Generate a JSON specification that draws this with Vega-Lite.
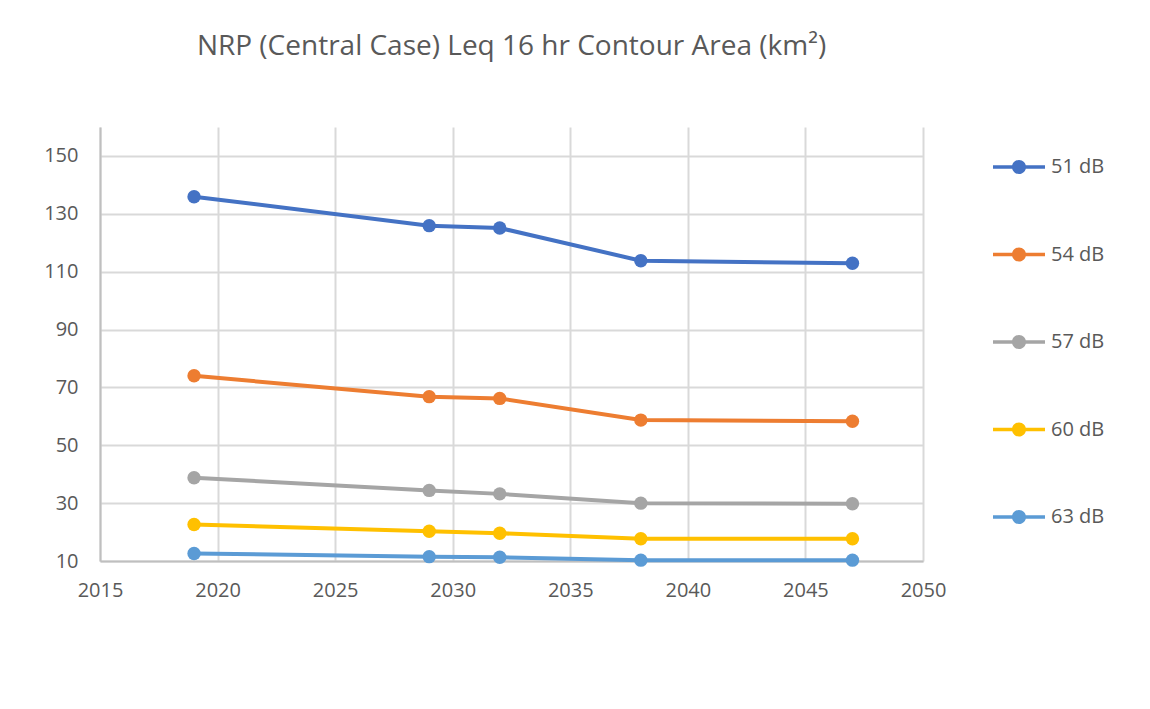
{
  "$schema": "https://vega.github.io/schema/vega-lite/v6.json",
  "autosize": "none",
  "width": 823,
  "height": 434,
  "padding": {"left": 100, "top": 127, "right": 227, "bottom": 148},
  "background": "white",
  "title": {
    "text": "NRP (Central Case) Leq 16 hr Contour Area (km²)",
    "anchor": "middle",
    "offset": 66,
    "font": "Open Sans",
    "fontSize": 28,
    "fontWeight": "normal",
    "color": "#595959"
  },
  "data": {
    "values": [
      {"year": 2019, "series": "51 dB", "area": 135.9},
      {"year": 2029, "series": "51 dB", "area": 125.9},
      {"year": 2032, "series": "51 dB", "area": 125.1},
      {"year": 2038, "series": "51 dB", "area": 113.8},
      {"year": 2047, "series": "51 dB", "area": 112.9},
      {"year": 2019, "series": "54 dB", "area": 74.0},
      {"year": 2029, "series": "54 dB", "area": 66.8},
      {"year": 2032, "series": "54 dB", "area": 66.2},
      {"year": 2038, "series": "54 dB", "area": 58.7},
      {"year": 2047, "series": "54 dB", "area": 58.3},
      {"year": 2019, "series": "57 dB", "area": 38.8},
      {"year": 2029, "series": "57 dB", "area": 34.4},
      {"year": 2032, "series": "57 dB", "area": 33.2},
      {"year": 2038, "series": "57 dB", "area": 30.0},
      {"year": 2047, "series": "57 dB", "area": 29.8},
      {"year": 2019, "series": "60 dB", "area": 22.6},
      {"year": 2029, "series": "60 dB", "area": 20.3},
      {"year": 2032, "series": "60 dB", "area": 19.6},
      {"year": 2038, "series": "60 dB", "area": 17.7},
      {"year": 2047, "series": "60 dB", "area": 17.7},
      {"year": 2019, "series": "63 dB", "area": 12.6},
      {"year": 2029, "series": "63 dB", "area": 11.5},
      {"year": 2032, "series": "63 dB", "area": 11.3},
      {"year": 2038, "series": "63 dB", "area": 10.3},
      {"year": 2047, "series": "63 dB", "area": 10.3}
    ]
  },
  "encoding": {
    "x": {
      "field": "year",
      "type": "quantitative",
      "scale": {"domain": [2015, 2050], "nice": false, "zero": false},
      "axis": {
        "title": null,
        "values": [2015, 2020, 2025, 2030, 2035, 2040, 2045, 2050],
        "format": "d",
        "grid": true,
        "gridColor": "#d9d9d9",
        "gridWidth": 2,
        "domainColor": "#bfbfbf",
        "domainWidth": 2,
        "ticks": false,
        "labelPadding": 19,
        "labelFont": "Open Sans",
        "labelFontSize": 20,
        "labelColor": "#595959",
        "labelFlush": false
      }
    },
    "y": {
      "field": "area",
      "type": "quantitative",
      "scale": {"domain": [10, 160], "nice": false, "zero": false},
      "axis": {
        "title": null,
        "values": [10, 30, 50, 70, 90, 110, 130, 150],
        "grid": true,
        "gridColor": "#d9d9d9",
        "gridWidth": 2,
        "domainColor": "#bfbfbf",
        "domainWidth": 2,
        "ticks": false,
        "labelPadding": 22,
        "labelFont": "Open Sans",
        "labelFontSize": 20,
        "labelColor": "#595959",
        "labelFlush": false
      }
    }
  },
  "layer": [
    {
      "mark": {"type": "line", "strokeWidth": 4},
      "encoding": {
        "stroke": {
          "field": "series",
          "type": "nominal",
          "scale": {
            "domain": ["51 dB", "54 dB", "57 dB", "60 dB", "63 dB"],
            "range": ["#4472C4", "#ED7D31", "#A5A5A5", "#FFC000", "#5B9BD5"]
          },
          "legend": null
        }
      }
    },
    {
      "mark": {"type": "point", "filled": true, "size": 180, "opacity": 1},
      "encoding": {
        "fill": {
          "field": "series",
          "type": "nominal",
          "scale": {
            "domain": ["51 dB", "54 dB", "57 dB", "60 dB", "63 dB"],
            "range": ["#4472C4", "#ED7D31", "#A5A5A5", "#FFC000", "#5B9BD5"]
          },
          "legend": {
            "title": null,
            "orient": "none",
            "legendX": 893,
            "legendY": 14,
            "padding": 0,
            "symbolType": "M-1,-0.065H1V0.065H-1Z M0.27,0A0.27,0.27,0,1,1,-0.27,0A0.27,0.27,0,1,1,0.27,0Z",
            "symbolSize": 2704,
            "symbolStrokeWidth": 0,
            "symbolOpacity": 1,
            "labelFont": "Open Sans",
            "labelFontSize": 20,
            "labelColor": "#595959",
            "labelOffset": 6,
            "rowPadding": 51.5
          }
        }
      }
    }
  ],
  "resolve": {
    "scale": {"stroke": "independent", "fill": "independent"},
    "legend": {"stroke": "independent", "fill": "independent"}
  },
  "config": {
    "view": {"stroke": null}
  }
}
